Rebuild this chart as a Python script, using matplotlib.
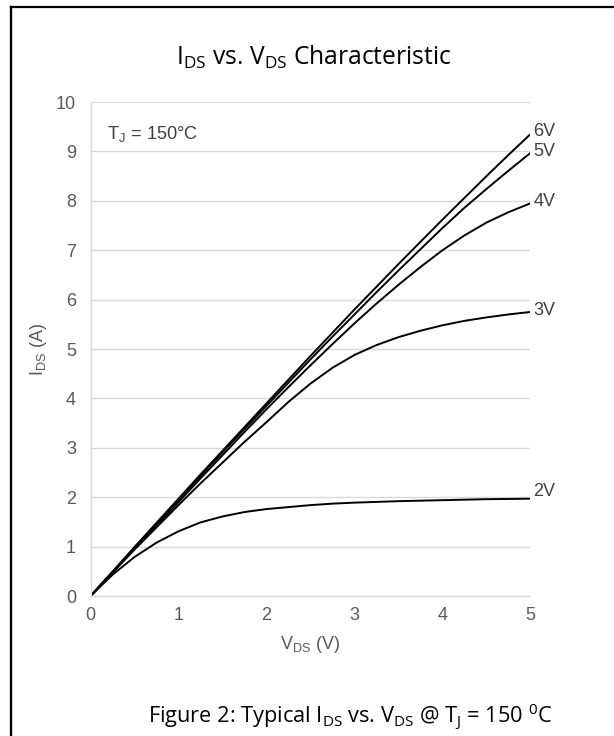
import matplotlib
matplotlib.use("Agg")
import matplotlib.pyplot as plt
from matplotlib.lines import Line2D

# (I_DS in A at each V_DS in V)
vds = [0, 0.25, 0.5, 0.75, 1, 1.25, 1.5, 1.75, 2, 2.25, 2.5,
       2.75, 3, 3.25, 3.5, 3.75, 4, 4.25, 4.5, 4.75, 5]
ids_6v = [0, 0.49, 0.99, 1.48, 1.97, 2.46, 2.94, 3.42, 3.90, 4.38, 4.86,
          5.33, 5.80, 6.26, 6.72, 7.17, 7.62, 8.06, 8.50, 8.93, 9.35]
ids_5v = [0, 0.49, 0.98, 1.47, 1.95, 2.43, 2.91, 3.38, 3.85, 4.32, 4.79,
          5.25, 5.70, 6.15, 6.59, 7.02, 7.45, 7.86, 8.24, 8.61, 8.97]
ids_4v = [0, 0.48, 0.96, 1.43, 1.90, 2.38, 2.85, 3.32, 3.78, 4.23, 4.67,
          5.10, 5.52, 5.92, 6.30, 6.66, 7.00, 7.30, 7.56, 7.77, 7.95]
ids_3v = [0, 0.47, 0.94, 1.39, 1.84, 2.28, 2.70, 3.12, 3.52, 3.93, 4.30,
          4.62, 4.88, 5.08, 5.24, 5.37, 5.48, 5.57, 5.64, 5.70, 5.75]
ids_2v = [0, 0.43, 0.79, 1.08, 1.31, 1.49, 1.61, 1.70, 1.76, 1.80, 1.84,
          1.87, 1.89, 1.905, 1.92, 1.93, 1.94, 1.95, 1.96, 1.965, 1.97]
curve_labels = ["6V", "5V", "4V", "3V", "2V"]

plt.rcParams["mathtext.fontset"] = "custom"
plt.rcParams["mathtext.rm"] = "Open Sans"
plt.rcParams["mathtext.sf"] = "Liberation Sans"

fig = plt.figure(figsize=(6.14, 7.36), dpi=100)
ax = fig.add_axes([0.1474, 0.1902, 0.7166, 0.6712])
renderer = fig.canvas.get_renderer()


def fit_width(txt, width_px):
    # scale the font so the text spans about width_px pixels
    w = txt.get_window_extent(renderer).width
    txt.set_fontsize(txt.get_fontsize() * width_px / w)


series = [ids_6v, ids_5v, ids_4v, ids_3v, ids_2v]
label_dy = [2, 1, 1, 1, 5]
for y, lab, dy in zip(series, curve_labels, label_dy):
    ax.plot(vds, y, color="black", lw=1.4, solid_capstyle="round")
    ax.annotate(lab, (vds[-1], y[-1]), xytext=(2, dy), textcoords="offset points",
                va="center", ha="left", fontsize=13, color="#404040",
                family="Liberation Sans", annotation_clip=False)

ax.set_xlim(0, 5)
ax.set_ylim(0, 10)
ax.set_xticks(range(0, 6))
ax.set_yticks(range(0, 11))
ax.grid(axis="y", color="#d9d9d9", lw=1)
ax.set_axisbelow(True)
for s in ["top", "right"]:
    ax.spines[s].set_visible(False)
for s in ["left", "bottom"]:
    ax.spines[s].set_color("#d9d9d9")
    ax.spines[s].set_linewidth(1)
ax.tick_params(length=0, labelsize=13, labelcolor="#595959")
ax.tick_params(axis="x", pad=8)
ax.tick_params(axis="y", pad=10.5)
for t in ax.get_xticklabels() + ax.get_yticklabels():
    t.set_family("Liberation Sans")

ax.set_xlabel(r"V$_{\mathsf{DS}}$ (V)", fontsize=13, color="#595959",
              family="Liberation Sans", labelpad=7)
ax.set_ylabel(r"I$_{\mathsf{DS}}$ (A)", fontsize=13, color="#595959",
              family="Liberation Sans", labelpad=5)
tj = ax.text(0.19, 9.35, r"T$_{\mathsf{J}}$ = 150°C", fontsize=13, color="#404040",
             family="Liberation Sans", va="center", ha="left")
fit_width(tj, 91)

title = fig.text(314 / 614, 1 - 65 / 736,
                 r"I$_{\mathrm{DS}}$ vs. V$_{\mathrm{DS}}$ Characteristic",
                 ha="center", va="baseline", fontsize=17, family="Open Sans",
                 color="black")
fit_width(title, 276)
caption = fig.text(350 / 614, 1 - 723 / 736,
                   r"Figure 2: Typical I$_{\mathrm{DS}}$ vs. V$_{\mathrm{DS}}$ @ T$_{\mathrm{J}}$ = 150 $^{\mathrm{0}}$C",
                   ha="center", va="baseline", fontsize=15.5, family="Open Sans",
                   color="black")
fit_width(caption, 403)

# frame: top and left edges only
fig.add_artist(Line2D([10.5 / 614, 1], [1 - 6.7 / 736] * 2, color="black", lw=1.6,
                      transform=fig.transFigure))
fig.add_artist(Line2D([10.5 / 614] * 2, [0, 1 - 6.7 / 736], color="black", lw=1.7,
                      transform=fig.transFigure))

fig.savefig("out.png", dpi=100)
